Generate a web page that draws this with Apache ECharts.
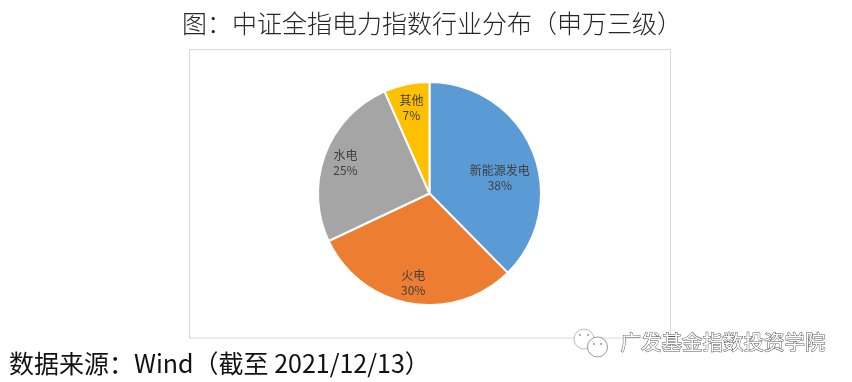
<!DOCTYPE html>
<html><head><meta charset="utf-8">
<style>html,body{margin:0;padding:0;background:#fff}#c{width:852px;height:382px}</style>
<script src="https://cdn.jsdelivr.net/npm/echarts@6/dist/echarts.min.js"></script>
</head><body><div id="c"></div>
<script>
const titleText = '图：中证全指电力指数行业分布（申万三级）';
const sourceText = '数据来源：Wind（截至 2021/12/13）';
const watermarkText = '广发基金指数投资学院';
const categories = ['新能源发电', '火电', '水电', '其他'];
const shares = [37.6, 30.4, 25.4, 6.6];
const colors = ['#5B9BD5', '#ED7D31', '#A5A5A5', '#FFC000'];
const cjk = '"Noto Sans CJK SC","Noto Sans",sans-serif';
const labelShift = [[16,7],[-6,32],[-29,-9.5],[-6,-28]];
const dot = (x,y)=>({type:'circle',shape:{cx:x,cy:y,r:1},style:{fill:'#999'}});

const chart = echarts.init(document.getElementById('c'), null, {renderer:'canvas'});
chart.setOption({
  animation:false,
  backgroundColor:'#fff',
  graphic:[
    {type:'rect',z:-1,shape:{x:189.5,y:49.5,width:481,height:288.5},style:{fill:'#fff',stroke:'#d9d9d9',lineWidth:1}},
    {type:'text',left:182,top:11,style:{text:titleText,font:'300 25px '+cjk,fill:'#262626'}},
    {type:'text',left:9,top:351,style:{text:sourceText,font:'400 25px '+cjk,fill:'#111'}},
    {type:'text',left:620,top:331,style:{text:watermarkText,font:'400 20.5px '+cjk,fill:'#fff',stroke:'#555',lineWidth:1}},
    {type:'circle',shape:{cx:584,cy:339,r:10},style:{fill:'#fff',stroke:'#bbb',lineWidth:1}},
    {type:'circle',shape:{cx:597.5,cy:347,r:10},style:{fill:'#fff',stroke:'#999',lineWidth:1}},
    dot(580,335),dot(588,335),dot(594,344),dot(601,344)
  ],
  series:[{
    type:'pie',
    center:[429.5,193.5],
    radius:[0,111.5],
    startAngle:90,
    clockwise:true,
    percentPrecision:0,
    itemStyle:{borderColor:'#fff',borderWidth:2},
    label:{position:'inside',formatter:'{b}\n{d}%',color:'#404040',fontSize:12,lineHeight:15,fontFamily:cjk},
    labelLine:{show:false},
    labelLayout:p=>({dx:labelShift[p.dataIndex][0],dy:labelShift[p.dataIndex][1]}),
    data:categories.map((n,i)=>({name:n,value:shares[i],itemStyle:{color:colors[i]}}))
  }]
});
</script></body></html>
